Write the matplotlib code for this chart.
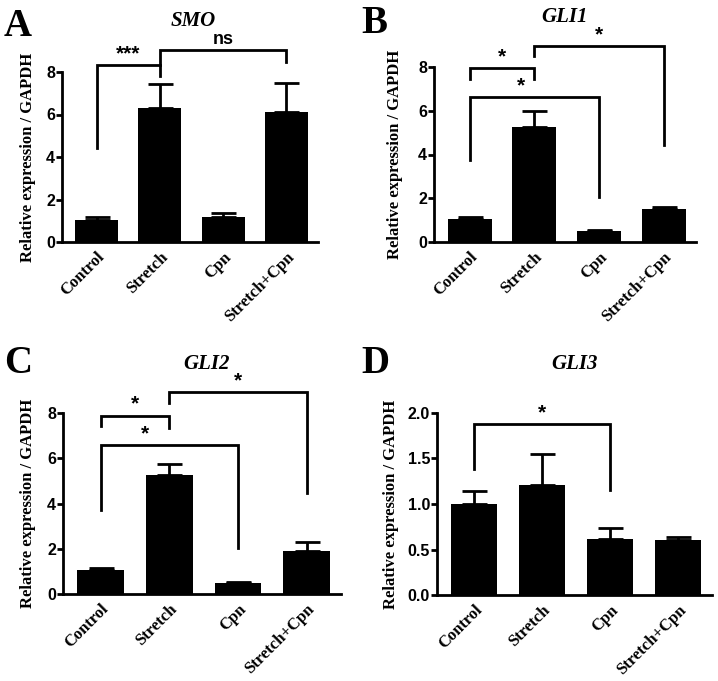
#!/usr/bin/env python3
import numpy as np
import matplotlib as mpl
mpl.use('Agg')
import matplotlib.pyplot as plt

groups = ['Control', 'Stretch', 'Cpn', 'Stretch+Cpn']

smo_mean = [1.03, 6.29, 1.16, 6.12]
smo_err = [0.16, 1.15, 0.22, 1.35]
gli1_mean = [1.05, 5.25, 0.50, 1.50]
gli1_err = [0.08, 0.76, 0.07, 0.11]
gli2_mean = [1.04, 5.26, 0.48, 1.92]
gli2_err = [0.10, 0.48, 0.05, 0.40]
gli3_mean = [1.00, 1.21, 0.61, 0.60]
gli3_err = [0.14, 0.34, 0.13, 0.04]

# brackets: (left bar, right bar, top, left leg end, right leg end, label, label shift)
smo_brackets = [(0, 1, 8.33, 4.41, 7.81, '***', 0), (1, 3, 9.03, 8.33, 8.49, 'ns', 0)]
gli1_brackets = [(0, 1, 7.95, 7.46, 7.43, '*', 0), (0, 2, 6.62, 3.75, 2.06, '*', -0.2),
                 (1, 3, 8.95, 8.49, 4.45, '*', 0)]
gli2_brackets = [(0, 1, 7.87, 7.41, 7.35, '*', 0), (0, 2, 6.58, 3.71, 2.03, '*', -0.35),
                 (1, 3, 8.92, 8.44, 4.45, '*', 0)]
gli3_brackets = [(0, 2, 1.876, 1.39, 1.15, '*', 0)]

W, H = 718, 681
serif = 'Liberation Serif'
sans = 'Liberation Sans'

panels = [
    # letter, title, mean, err, brackets, ymax, yticks, fmt, axes px (left, y0, right, ytop), letter pos, title pos, ylabel x
    ('A', 'SMO', smo_mean, smo_err, smo_brackets, 8, [0, 2, 4, 6, 8], '%d',
     (62, 242, 318, 72), (4, 8), (193, 21), 28),
    ('B', 'GLI1', gli1_mean, gli1_err, gli1_brackets, 8, [0, 2, 4, 6, 8], '%d',
     (434, 242, 696, 67), (361, 5), (565, 17), 395),
    ('C', 'GLI2', gli2_mean, gli2_err, gli2_brackets, 8, [0, 2, 4, 6, 8], '%d',
     (63, 594, 341, 413), (4, 345), (207, 364), 28),
    ('D', 'GLI3', gli3_mean, gli3_err, gli3_brackets, 2.0, [0, 0.5, 1.0, 1.5, 2.0], '%.1f',
     (437, 595, 712, 413), (361, 345), (575, 364), 391),
]

fig = plt.figure(figsize=(W / 100, H / 100), dpi=100)

for (letter, title, mean, err, brackets, ymax, yticks, fmt,
     box, lpos, tpos, ylx) in panels:
    x0, y0, x1, yt = box
    ax = fig.add_axes([x0 / W, (H - y0) / H, (x1 - x0) / W, (y0 - yt) / H])
    x = np.arange(len(groups))
    ax.bar(x, mean, width=0.68, color='black', zorder=2)
    ax.errorbar(x, mean, yerr=[np.zeros(len(mean)), err], fmt='none',
                ecolor='black', elinewidth=2, capsize=9, capthick=2, zorder=1)
    ax.set_xlim(-0.55, 3.5)
    ax.set_ylim(0, ymax)
    ax.set_yticks(yticks)
    ax.yaxis.set_major_formatter(mpl.ticker.FormatStrFormatter(fmt))
    for t in ax.get_yticklabels():
        t.set_fontfamily(sans)
        t.set_fontweight('bold')
        t.set_fontsize(11.5)
    ax.set_xticks(x)
    ax.set_xticklabels(groups, rotation=45, ha='right', rotation_mode='anchor',
                       fontfamily=serif, fontweight='bold', fontsize=12)
    ax.tick_params(axis='x', length=0, pad=5)
    ax.tick_params(axis='y', length=4, width=2, pad=1)
    for s in ['top', 'right']:
        ax.spines[s].set_visible(False)
    for s in ['left', 'bottom']:
        ax.spines[s].set_linewidth(2)

    for i, j, top, lb, rb, lab, dx in brackets:
        ax.plot([i, i, j, j], [lb, top, top, rb], color='black', lw=2,
                clip_on=False, solid_joinstyle='miter')
        ax.text((i + j) / 2 + dx, top + ymax * 0.012, lab, ha='center', va='bottom',
                fontfamily=sans, fontweight='bold', fontsize=15 if lab != 'ns' else 13)

    fig.text(lpos[0] / W, 1 - lpos[1] / H, letter, ha='left', va='top',
             fontfamily=serif, fontweight='bold', fontsize=28)
    fig.text(tpos[0] / W, 1 - tpos[1] / H, title, ha='center', va='center',
             fontfamily=serif, fontweight='bold', fontstyle='italic', fontsize=15)
    fig.text(ylx / W, (H - (y0 + yt) / 2) / H, 'Relative expression / GAPDH',
             ha='center', va='center', rotation=90,
             fontfamily=serif, fontweight='bold', fontsize=12)

fig.savefig('out.png', dpi=100)
